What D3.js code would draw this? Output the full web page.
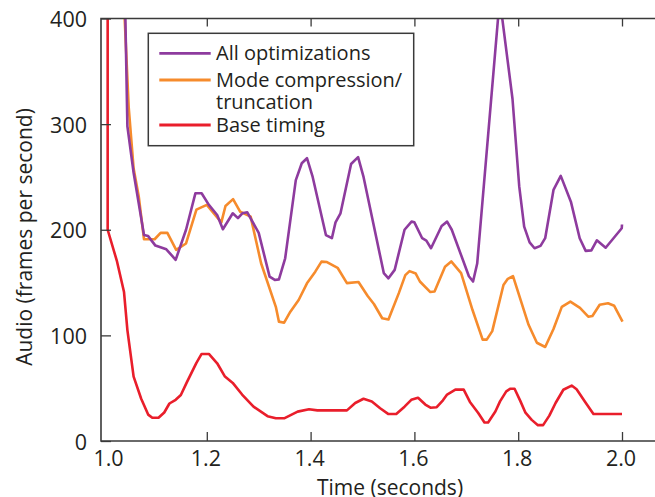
<!DOCTYPE html>
<html><head><meta charset="utf-8">
<script src="https://cdn.jsdelivr.net/npm/d3@7"></script>
<style>
body{margin:0;background:#fff}
svg{display:block}
text{font-family:"Open Sans",sans-serif;fill:#231f20}
</style>
</head><body>
<svg id="chart" width="655" height="497"></svg>
<script>
// ---- data ----
const timeTicks = [1.0, 1.2, 1.4, 1.6, 1.8, 2.0];
const fpsTicks = [0, 100, 200, 300, 400];
const seriesNames = [["All optimizations"], ["Mode compression/", "truncation"], ["Base timing"]];
const seriesColors = ["#8e3b9e", "#f68b2c", "#e91e2b"];

const allOptimizations = [
  [1.042, 430], [1.047, 298], [1.059, 254], [1.079, 195], [1.087, 194], [1.101, 185],
  [1.122, 181.5], [1.132, 176], [1.140, 171.5], [1.160, 200], [1.178, 234.5], [1.190, 234.5],
  [1.204, 223.5], [1.220, 214], [1.231, 200.5], [1.250, 215.6], [1.260, 211], [1.2685, 215.6],
  [1.278, 216.5], [1.300, 197], [1.321, 155.6], [1.331, 152.5], [1.339, 153], [1.351, 173],
  [1.3715, 247], [1.383, 263], [1.393, 267.7], [1.404, 250], [1.4295, 195], [1.441, 192],
  [1.448, 207], [1.4576, 215.6], [1.478, 262.3], [1.4915, 268.7], [1.502, 250], [1.541, 159],
  [1.550, 154], [1.562, 162], [1.581, 200], [1.5945, 207.7], [1.600, 207], [1.615, 192],
  [1.623, 189.7], [1.632, 182.5], [1.6525, 203.6], [1.663, 207.7], [1.672, 200], [1.705, 156],
  [1.713, 151], [1.721, 168], [1.762, 405], [1.768, 405], [1.789, 324], [1.802, 241],
  [1.8115, 203], [1.822, 188], [1.8315, 182.5], [1.843, 184.7], [1.852, 192], [1.868, 237.7],
  [1.882, 251], [1.9015, 226.6], [1.9185, 192], [1.930, 180], [1.941, 180.5], [1.9515, 190],
  [1.9685, 183], [1.9995, 201.4], [2.000, 205]
];

const modeCompression = [
  [1.039, 430], [1.0495, 316], [1.059, 258], [1.069, 231], [1.079, 191], [1.0995, 191],
  [1.111, 197], [1.124, 197], [1.141, 181], [1.160, 187], [1.180, 219], [1.200, 223.5],
  [1.228, 207], [1.236, 222.5], [1.2506, 229], [1.2645, 217], [1.2845, 212.4], [1.3046, 168.3],
  [1.333, 127], [1.339, 113], [1.349, 112], [1.361, 122.4], [1.377, 133.5], [1.393, 149.3],
  [1.409, 160.3], [1.421, 169.8], [1.4315, 169.4], [1.452, 164], [1.470, 149.5], [1.4923, 150.5],
  [1.510, 137.3], [1.522, 129.7], [1.538, 116.2], [1.550, 115], [1.570, 140], [1.5825, 157],
  [1.5906, 160.8], [1.6026, 158.5], [1.6106, 151], [1.6307, 141], [1.6388, 141.5], [1.659, 165],
  [1.671, 170], [1.690, 159], [1.712, 124], [1.7315, 96], [1.7394, 96], [1.750, 104],
  [1.7716, 147.7], [1.780, 153.5], [1.790, 156], [1.820, 110], [1.836, 93], [1.852, 89],
  [1.868, 106], [1.884, 127], [1.9005, 132], [1.919, 126], [1.935, 117.7], [1.943, 118.4],
  [1.957, 129], [1.973, 130.4], [1.985, 128], [2.001, 113]
];

const baseTiming = [
  [1.009, 430], [1.009, 200], [1.027, 170], [1.0405, 141], [1.047, 105], [1.059, 61],
  [1.0736, 40], [1.087, 25], [1.095, 22], [1.107, 22], [1.118, 27], [1.128, 35.5],
  [1.140, 39], [1.150, 43.5], [1.161, 55], [1.180, 74], [1.190, 82.4], [1.204, 82.4],
  [1.220, 73.6], [1.235, 61], [1.250, 55], [1.268, 44], [1.290, 32.5], [1.317, 23.5],
  [1.333, 21.5], [1.349, 21.5], [1.375, 27.8], [1.397, 30], [1.413, 29], [1.470, 29],
  [1.486, 36], [1.502, 40], [1.518, 37.5], [1.534, 31], [1.550, 25.5], [1.565, 25.5],
  [1.581, 32.5], [1.594, 39], [1.607, 41], [1.621, 34.5], [1.631, 31.5], [1.643, 32],
  [1.655, 38.5], [1.663, 44], [1.679, 48.6], [1.695, 48.6], [1.707, 37], [1.723, 26.5],
  [1.735, 17.5], [1.742, 17.5], [1.756, 28], [1.765, 37.5], [1.777, 47], [1.785, 49.5],
  [1.793, 49.5], [1.804, 38], [1.814, 26.8], [1.826, 20], [1.838, 15], [1.848, 15],
  [1.860, 24], [1.872, 36], [1.887, 48.5], [1.903, 52.5], [1.9125, 49], [1.929, 37],
  [1.945, 25.5], [2.000, 25.5]
];

const series = [allOptimizations, modeCompression, baseTiming];

// ---- layout ----
const plotLeft = 101, plotRight = 655, plotTop = 18.5, plotBottom = 441;
const x = d3.scaleLinear().domain([1, 2]).range([103, 622]);
const y = d3.scaleLinear().domain([0, 400]).range([plotBottom, plotTop]);

const svg = d3.select("#chart");
const axisColor = "#3a3a3a";

svg.append("defs").append("clipPath").attr("id", "plotclip")
  .append("rect").attr("x", plotLeft).attr("y", plotTop)
  .attr("width", plotRight - plotLeft).attr("height", plotBottom - plotTop);

// lines
const line = d3.line().x(d => x(d[0])).y(d => y(d[1]));
const gLines = svg.append("g").attr("clip-path", "url(#plotclip)");
[2, 1, 0].forEach(i => {
  gLines.append("path").datum(series[i])
    .attr("d", line).attr("fill", "none")
    .attr("stroke", seriesColors[i]).attr("stroke-width", 2.6)
    .attr("stroke-linejoin", "round").attr("stroke-linecap", "butt");
});

// axes
const fmt = d3.format(".1f");
const xAxis = d3.axisBottom(x).tickValues(timeTicks).tickFormat(fmt)
  .tickSizeInner(-9).tickSizeOuter(0).tickPadding(10);
const gx = svg.append("g").attr("transform", `translate(0,${plotBottom})`).call(xAxis);
gx.select(".domain").remove();
gx.selectAll(".tick line").attr("stroke", axisColor).attr("stroke-width", 1.3);
gx.selectAll(".tick").filter(d => d === 1.0).select("line").remove();
gx.selectAll(".tick text").style("font-size", "21.5px").attr("fill", "#231f20")
  .attr("dx", d => d === 1.0 ? 5 : -1.5);

const xTop = d3.axisTop(x).tickValues(timeTicks).tickFormat("")
  .tickSizeInner(-8).tickSizeOuter(0);
const gxt = svg.append("g").attr("transform", `translate(0,${plotTop})`).call(xTop);
gxt.select(".domain").remove();
gxt.selectAll(".tick line").attr("stroke", axisColor).attr("stroke-width", 1.3);
gxt.selectAll(".tick").filter(d => d === 1.0).remove();

const yAxis = d3.axisLeft(y).tickValues(fpsTicks).tickFormat(d3.format("d"))
  .tickSizeInner(-10).tickSizeOuter(0).tickPadding(14);
const gy = svg.append("g").attr("transform", `translate(${plotLeft},0)`).call(yAxis);
gy.select(".domain").remove();
gy.selectAll(".tick line").attr("stroke", axisColor).attr("stroke-width", 1.3);
gy.selectAll(".tick text").style("font-size", "21.5px").attr("fill", "#231f20").attr("dy", "0.38em");

// frame (top, left, bottom)
svg.append("path")
  .attr("d", `M${plotRight},${plotTop}H${plotLeft}V${plotBottom}H${plotRight}`)
  .attr("fill", "none").attr("stroke", axisColor).attr("stroke-width", 1.6);

// axis titles
svg.append("text").attr("x", 390).attr("y", 495).attr("text-anchor", "middle")
  .style("font-size", "21px").text("Time (seconds)");
svg.append("text").attr("transform", "translate(32,237) rotate(-90)").attr("text-anchor", "middle")
  .style("font-size", "21px").text("Audio (frames per second)");

// legend
const lg = svg.append("g");
lg.append("rect").attr("x", 148.3).attr("y", 33.3).attr("width", 265.4).attr("height", 112.4)
  .attr("fill", "#fff").attr("stroke", axisColor).attr("stroke-width", 1.5);
const legendRows = [
  {line: 53.3, base: [60]},
  {line: 80, base: [87, 108.5]},
  {line: 125, base: [131.5]}
];
legendRows.forEach((r, i) => {
  lg.append("line").attr("x1", 159.3).attr("x2", 210.7).attr("y1", r.line).attr("y2", r.line)
    .attr("stroke", seriesColors[i]).attr("stroke-width", 2.8);
  const t = lg.append("text").style("font-size", "20px");
  seriesNames[i].forEach((s, k) => {
    t.append("tspan").attr("x", 216).attr("y", r.base[k]).text(s);
  });
});
</script>
</body></html>
